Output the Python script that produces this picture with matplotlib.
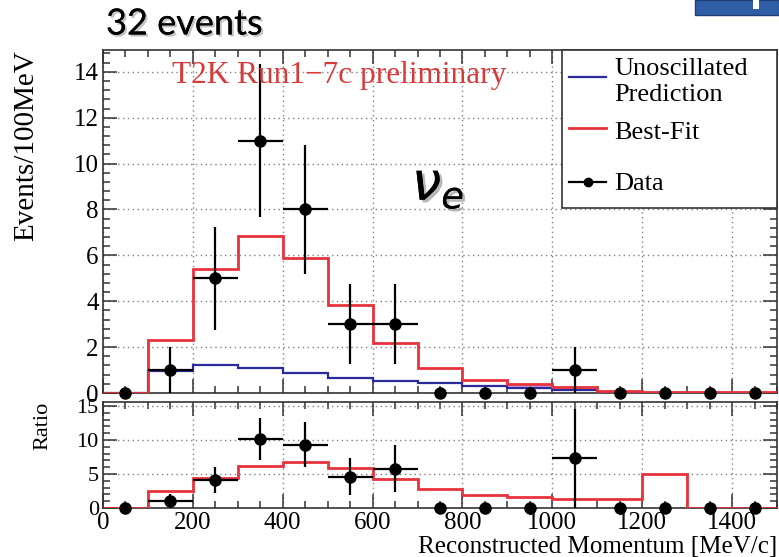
import numpy as np
import matplotlib
matplotlib.use("Agg")
import matplotlib.pyplot as plt
from matplotlib.lines import Line2D
from matplotlib.patches import Rectangle
import matplotlib.patheffects as pe
from matplotlib.ticker import MultipleLocator

# ---- data ----
bin_edges = [0, 100, 200, 300, 400, 500, 600, 700, 800, 900, 1000, 1100, 1200, 1300, 1400, 1500]
bin_centers = [50, 150, 250, 350, 450, 550, 650, 750, 850, 950, 1050, 1150, 1250, 1350, 1450]
data_counts = [0, 1, 5, 11, 8, 3, 3, 0, 0, 0, 1, 0, 0, 0, 0]
data_err = [0, 1.0, 2.24, 3.32, 2.83, 1.73, 1.73, 0, 0, 0, 1.0, 0, 0, 0, 0]
bestfit = [0, 2.3, 5.4, 6.85, 5.9, 3.85, 2.2, 1.07, 0.57, 0.38, 0.25, 0.08, 0.04, 0.03, 0.03]
unosc = [0, 0.95, 1.2, 1.1, 0.86, 0.65, 0.52, 0.42, 0.32, 0.23, 0.14, 0.05, 0.02, 0.01, 0.01]
ratio_fit = [0, 2.5, 4.4, 6.2, 6.8, 5.9, 4.2, 2.85, 1.85, 1.6, 1.37, 1.27, 5.0, 0, 0]
ratio_data = [0, 1.1, 4.1, 10.1, 9.3, 4.6, 5.8, 0, 0, 0, 7.3, 0, 0, 0, 0]
ratio_err = [0, 0.9, 1.9, 3.1, 3.3, 2.7, 3.4, 0, 0, 0, 7.3, 0, 0, 0, 0]

W, H = 779, 557
fig = plt.figure(figsize=(W / 100, H / 100), dpi=100)
serif = ['Liberation Serif', 'DejaVu Serif']
plt.rcParams['font.family'] = serif

def fx(px):
    return px / W

def fy(py):
    return 1 - py / H

ax1 = fig.add_axes([fx(103), fy(393), fx(777) - fx(103), fy(50) - fy(393)])
ax2 = fig.add_axes([fx(103), fy(508), fx(777) - fx(103), fy(402) - fy(508)])

red = '#e8323c'
blue = '#2a2a9c'

def style(ax, ymaj, ymin, ylabsize):
    ax.set_xlim(0, 1500)
    ax.xaxis.set_major_locator(MultipleLocator(200))
    ax.xaxis.set_minor_locator(MultipleLocator(50))
    ax.yaxis.set_major_locator(MultipleLocator(ymaj))
    ax.yaxis.set_minor_locator(MultipleLocator(ymin))
    ax.tick_params(which='both', direction='in', top=True, right=True, width=1.1, color='#333333')
    ax.tick_params(which='major', length=10)
    ax.tick_params(which='minor', length=5)
    ax.tick_params(axis='x', labelsize=18, pad=3)
    ax.tick_params(axis='y', labelsize=ylabsize, pad=3)
    ax.grid(True, which='major', linestyle=(0, (1, 2.5)), color='#808080', linewidth=1.0)
    for s in ax.spines.values():
        s.set_linewidth(1.2)
        s.set_color('#333333')

# ---- top panel ----
style(ax1, 2, 0.4, 18)
ax1.set_ylim(0, 14.95)
ax1.tick_params(labelbottom=False)
ax1.stairs(unosc, bin_edges, color=blue, linewidth=1.6, zorder=3)
ax1.stairs(bestfit, bin_edges, color=red, linewidth=2.0, zorder=4)
# small violet fill region between the histograms
ax1.fill_between(bin_edges[9:12], unosc[9:11] + [unosc[10]], bestfit[9:11] + [bestfit[10]],
                 step='post', color='#c48ae0', alpha=0.8, zorder=2, linewidth=0)
nz = [i for i, v in enumerate(data_counts) if v > 0]
z = [i for i, v in enumerate(data_counts) if v == 0]
ax1.errorbar([bin_centers[i] for i in nz], [data_counts[i] for i in nz],
             xerr=50, yerr=[data_err[i] for i in nz], fmt='o', color='black',
             markersize=8, elinewidth=1.6, capsize=0, zorder=6)
ax1.plot([bin_centers[i] for i in z], [data_counts[i] for i in z], 'o', color='black',
         markersize=8, zorder=6, clip_on=False)
ax1.set_ylabel('Events/100MeV', fontsize=21, loc='top')
ax1.yaxis.set_label_coords(-0.095, 1.0)

ax1.text(fx(172), fy(76), 'T2K Run1\u22127c preliminary', transform=fig.transFigure,
         color='#d83a3a', fontsize=22.5, va='center', ha='left', zorder=10)

# legend box
lx0, lx1, ly0, ly1 = 562, 777, 50, 208
fig.patches.append(Rectangle((fx(lx0), fy(ly1)), fx(lx1) - fx(lx0), fy(ly0) - fy(ly1),
                             transform=fig.transFigure, facecolor='white', edgecolor='#333333',
                             linewidth=1.2, zorder=5))
ax1.set_zorder(1)
leg_items = [(blue, 77, False, 'Unoscillated\nPrediction', 82),
             (red, 128, False, 'Best-Fit', 133),
             ('black', 182, True, 'Data', 184)]
for c, ly, mk, lab, ty in leg_items:
    fig.add_artist(Line2D([fx(569), fx(606)], [fy(ly), fy(ly)], transform=fig.transFigure,
                          color=c, linewidth=2.0 if c == red else 1.6, zorder=6))
    if mk:
        fig.add_artist(Line2D([fx(587.5)], [fy(ly)], transform=fig.transFigure, marker='o',
                              color='black', markersize=6, zorder=6))
    fig.text(fx(614), fy(ty), lab, fontsize=19, va='center', ha='left', zorder=7,
             linespacing=1.2)

# nu_e annotation
fig.text(fx(438), fy(185), r'$\nu_e$', fontsize=38, ha='center', va='center',
         family=['DejaVu Sans'],
         path_effects=[pe.withSimplePatchShadow(offset=(2, -2), shadow_rgbFace='#999999', alpha=0.7),
                       pe.Normal()])

# ---- ratio panel ----
style(ax2, 5, 1, 16)
ax2.set_ylim(0, 15.6)
ax2.stairs(ratio_fit, bin_edges, color=red, linewidth=2.0, zorder=4)
nzr = [i for i, v in enumerate(ratio_data) if v > 0]
zr = [i for i, v in enumerate(ratio_data) if v == 0]
ax2.errorbar([bin_centers[i] for i in nzr], [ratio_data[i] for i in nzr],
             xerr=50, yerr=[ratio_err[i] for i in nzr], fmt='o', color='black',
             markersize=8, elinewidth=1.6, capsize=0, zorder=6)
ax2.plot([bin_centers[i] for i in zr], [ratio_data[i] for i in zr], 'o', color='black',
         markersize=8, zorder=6, clip_on=False)
ax2.set_ylabel('Ratio', fontsize=16, loc='top')
ax2.yaxis.set_label_coords(-0.075, 1.0)
ax2.set_xlabel('Reconstructed Momentum [MeV/c]', fontsize=18, loc='right', labelpad=1)

# ---- header decorations ----
fig.text(fx(106), fy(24), '32 events', fontsize=26, family=['Lato', 'DejaVu Sans'],
         va='center', ha='left',
         path_effects=[pe.withSimplePatchShadow(offset=(1.5, -1.5), shadow_rgbFace='#888888', alpha=0.5),
                       pe.Normal()])
fig.patches.append(Rectangle((fx(695), fy(15)), 1 - fx(695), 1 - fy(15), transform=fig.transFigure,
                             facecolor='#2f5da6', edgecolor='#1f3f7a', linewidth=1.0, zorder=3))
fig.patches.append(Rectangle((fx(753), fy(9)), fx(6), 1 - fy(9), transform=fig.transFigure,
                             facecolor='white', edgecolor='none', zorder=4))

fig.savefig('out.png', dpi=100)
